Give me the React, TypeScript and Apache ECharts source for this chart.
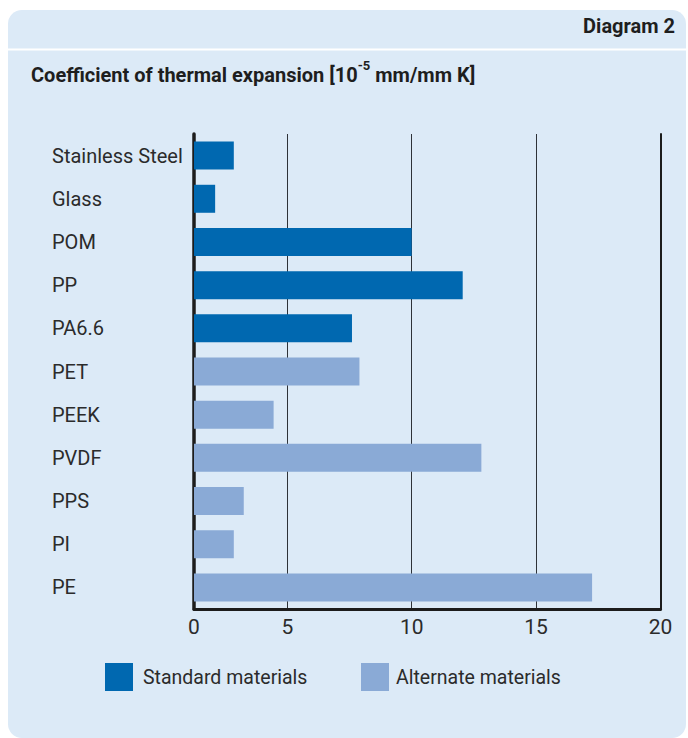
import React, { useEffect, useRef } from "react";
import * as echarts from "echarts";

const categories = ["Stainless Steel", "Glass", "POM", "PP", "PA6.6", "PET", "PEEK", "PVDF", "PPS", "PI", "PE"];
const standardValues = [2.85, 2.1, 10, 12.05, 7.6, null, null, null, null, null, null];
const alternateValues = [null, null, null, null, null, 7.9, 4.45, 12.8, 3.25, 2.85, 17.25];
const xTicks = [1.25, 5, 10, 15, 20];
const xTickLabels = ["0", "5", "10", "15", "20"];
const seriesNames = ["Standard materials", "Alternate materials"];

const FONT = "Roboto, 'Noto Sans', sans-serif";
const TEXT = "#2b2b2b";
const PANEL = "#dceaf7";

export default function App() {
  const ref = useRef<HTMLDivElement>(null);
  useEffect(() => {
    if (!ref.current) return;
    const chart = echarts.init(ref.current, null, { renderer: "svg" });
    chart.setOption({
      animation: false,
      backgroundColor: "#ffffff",
      textStyle: { fontFamily: FONT },
      graphic: [
        {
          type: "rect",
          z: -10,
          silent: true,
          shape: { x: 8, y: 10, width: 678, height: 728, r: 14 },
          style: { fill: PANEL },
        },
        {
          type: "line",
          z: -9,
          silent: true,
          shape: { x1: 8, y1: 49.5, x2: 686, y2: 49.5 },
          style: { stroke: "#ffffff", lineWidth: 2 },
        },
        {
          type: "text",
          x: 675,
          y: 26,
          style: {
            text: "Diagram 2",
            align: "right",
            verticalAlign: "middle",
            fontFamily: FONT,
            fontWeight: "bold",
            fontSize: 20,
            fill: "#1e1e1e",
          },
        },
        {
          type: "text",
          x: 31,
          y: 72,
          style: {
            text: "{b|Coefficient of thermal expansion [10}{s|-5}{b| mm/mm K]}",
            verticalAlign: "middle",
            rich: {
              b: { fontFamily: FONT, fontWeight: "bold", fontSize: 20, fill: "#1e1e1e", color: "#1e1e1e", lineHeight: 26, verticalAlign: "bottom" },
              s: { fontFamily: FONT, fontWeight: "bold", fontSize: 13, fill: "#1e1e1e", color: "#1e1e1e", lineHeight: 26, verticalAlign: "top" },
            },
          },
        },
      ],
      legend: [
        {
          data: [seriesNames[0]],
          left: 105,
          top: 663,
          padding: 0,
          icon: "rect",
          itemWidth: 28,
          itemHeight: 28,
          selectedMode: false,
          textStyle: { fontSize: 19.5, color: TEXT, fontFamily: FONT, padding: [0, 0, 0, 5] },
        },
        {
          data: [seriesNames[1]],
          left: 361,
          top: 663,
          padding: 0,
          icon: "rect",
          itemWidth: 28,
          itemHeight: 28,
          selectedMode: false,
          textStyle: { fontSize: 19.5, color: TEXT, fontFamily: FONT, padding: [0, 0, 0, 2] },
        },
      ],
      grid: { left: 194, right: 27.5, top: 134, bottom: 129, containLabel: false },
      xAxis: {
        type: "value",
        min: xTicks[0],
        max: xTicks[xTicks.length - 1],
        splitNumber: 4,
        axisLine: { show: true, onZero: false, lineStyle: { color: "#1c1c1c", width: 3 } },
        axisTick: { show: false, customValues: xTicks },
        axisLabel: {
          customValues: xTicks,
          showMinLabel: true,
          showMaxLabel: true,
          margin: 7,
          fontSize: 21,
          color: TEXT,
          fontFamily: FONT,
          formatter: (v: number) => {
            const i = xTicks.indexOf(v);
            return i >= 0 ? xTickLabels[i] : "";
          },
        },
        splitLine: { show: true, lineStyle: { color: "#2e3238", width: 1 } },
      },
      yAxis: [
        {
          type: "category",
          data: categories,
          inverse: true,
          axisLine: { show: true, onZero: false, lineStyle: { color: "#1c1c1c", width: 3.5 } },
          axisTick: { show: false },
          axisLabel: { align: "left", margin: 142, fontSize: 20, color: TEXT, fontFamily: FONT },
          splitLine: { show: false },
        },
        {
          type: "category",
          data: categories,
          inverse: true,
          position: "right",
          axisLine: { show: true, onZero: false, lineStyle: { color: "#1c1c1c", width: 2 } },
          axisTick: { show: false },
          axisLabel: { show: false },
          splitLine: { show: false },
        },
      ],
      series: [
        {
          name: seriesNames[0],
          type: "bar",
          stack: "materials",
          barWidth: 28,
          data: standardValues,
          itemStyle: { color: "#0068b0" },
        },
        {
          name: seriesNames[1],
          type: "bar",
          stack: "materials",
          barWidth: 28,
          data: alternateValues,
          itemStyle: { color: "#8aaad6" },
        },
      ],
    });
    return () => chart.dispose();
  }, []);
  return <div ref={ref} style={{ position: "fixed", left: 0, top: 0, width: 688, height: 738 }} />;
}
